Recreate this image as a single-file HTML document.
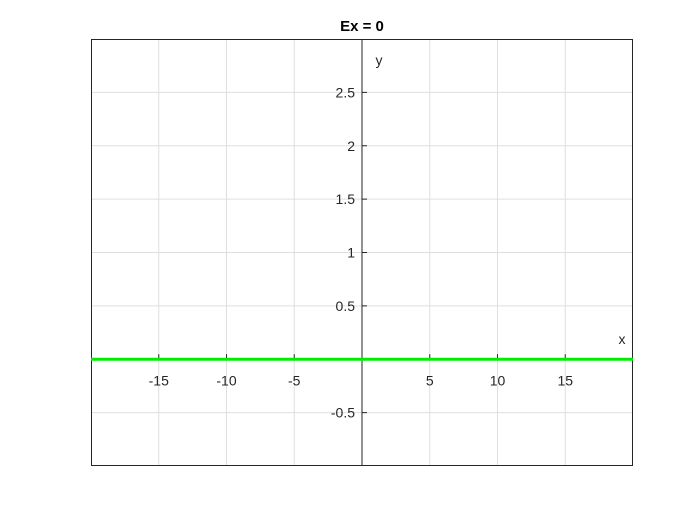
<!DOCTYPE html>
<html><head><meta charset="utf-8"><style>
body{margin:0;background:#fff;}
svg text{font-family:"Liberation Sans",sans-serif;}
</style></head><body>
<svg width="700" height="525" viewBox="0 0 700 525">
<g id="g"></g>
</svg>
<script>
const xTicks=[-15,-10,-5,5,10,15];
const yTicks=[-0.5,0.5,1,1.5,2,2.5];
const lineX=[-20,20];
const lineY=[0,0];
const xMin=-20,xMax=20,yMin=-1,yMax=3;
const L=91,R=633,T=39,B=466;
const sx=v=>L+(v-xMin)/(xMax-xMin)*(R-L);
const sy=v=>B-(v-yMin)/(yMax-yMin)*(B-T);
const g=document.getElementById('g');
const NS='http://www.w3.org/2000/svg';
function mk(t,a,txt){const e=document.createElementNS(NS,t);for(const k in a)e.setAttribute(k,a[k]);if(txt!==undefined)e.textContent=txt;g.appendChild(e);return e;}
let e;
e=mk('rect',{x:L,y:T,width:R-L,height:B-T,fill:'#fff',stroke:'none'});


const gx=[-15,-10,-5,0,5,10,15];
gx.forEach(v=>{e=mk('line',{x1:sx(v),x2:sx(v),y1:T,y2:B,stroke:'#dfdfdf','stroke-width':1});

});
const gy=[-0.5,0,0.5,1,1.5,2,2.5];
gy.forEach(v=>{e=mk('line',{x1:L,x2:R,y1:sy(v),y2:sy(v),stroke:'#dfdfdf','stroke-width':1});

});
e=mk('rect',{x:L+0.5,y:T+0.5,width:R-L-1,height:B-T-1,fill:'none',stroke:'#262626','stroke-width':1});


const x0=sx(0),y0=sy(0);
e=mk('line',{x1:x0,x2:x0,y1:T,y2:B,stroke:'#262626','stroke-width':1});


e=mk('line',{x1:L,x2:R,y1:y0,y2:y0,stroke:'#262626','stroke-width':1});


xTicks.forEach(v=>{
e=mk('line',{x1:sx(v),x2:sx(v),y1:y0,y2:y0-5,stroke:'#262626'});


e=mk('text',{x:sx(v),y:y0+26,'text-anchor':'middle','font-size':14,fill:'#262626'},String(v));

});
yTicks.forEach(v=>{
e=mk('line',{x1:x0,x2:x0+5,y1:sy(v),y2:sy(v),stroke:'#262626'});


e=mk('text',{x:x0-7,y:sy(v)+5,'text-anchor':'end','font-size':14,fill:'#262626'},String(v));

});
e=mk('polyline',{points:lineX.map((v,i)=>sx(v)+','+sy(lineY[i])).join(' '),fill:'none',stroke:'#00ee00','stroke-width':3});


e=mk('text',{x:622,y:344,'text-anchor':'middle','font-size':14,fill:'#262626'},'x');


e=mk('text',{x:379,y:65,'text-anchor':'middle','font-size':14,fill:'#262626'},'y');


e=mk('text',{x:362,y:31,'text-anchor':'middle','font-size':15,'font-weight':'bold',fill:'#000'},'Ex = 0');


</script>
</body></html>
